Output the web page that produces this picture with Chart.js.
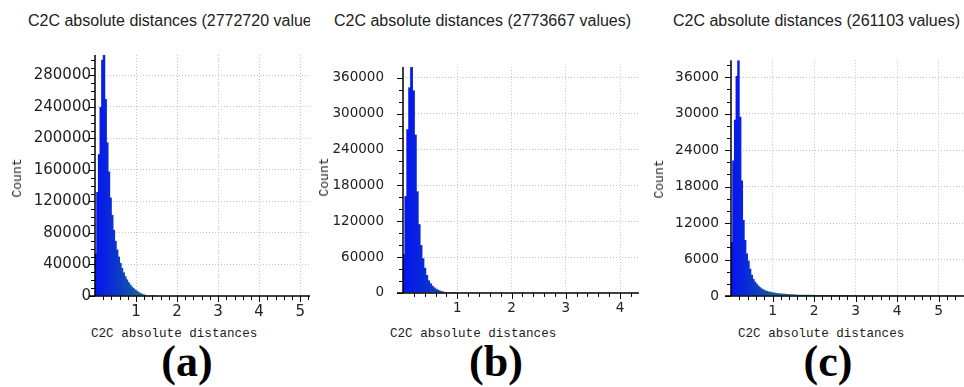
<!DOCTYPE html>
<html>
<head>
<meta charset="utf-8">
<script src="https://cdn.jsdelivr.net/npm/chart.js@4.4.1/dist/chart.umd.min.js"></script>
<style>
  body { margin: 0; width: 964px; height: 387px; overflow: hidden; background: #fff; position: relative; }
  canvas, .txt { position: absolute; }
  .title { font-family: "Liberation Sans", Arial, sans-serif; font-size: 16px; color: #222; white-space: nowrap; overflow: hidden; line-height: 20px; top: 11px; }
  .ylab { font-family: "Liberation Mono", monospace; font-size: 13px; color: #222; line-height: 14px; white-space: nowrap; transform: translate(-50%, -50%) rotate(-90deg); }
  .xlab { font-family: "Liberation Mono", monospace; font-size: 12.6px; color: #222; line-height: 16px; white-space: nowrap; top: 326px; }
  .tag { font-family: "Liberation Serif", serif; font-weight: bold; font-size: 44px; line-height: 44px; color: #000; top: 340px; transform: translateX(-50%); }
</style>
</head>
<body>

<div class="txt title" style="left:28px; width:282px;">C2C absolute distances (2772720 values)</div>
<div class="txt title" style="left:334px;">C2C absolute distances (2773667 values)</div>
<div class="txt title" style="left:673px;">C2C absolute distances (261103 values)</div>

<canvas id="chartA" width="320" height="280" style="left:0; top:40px;"></canvas>
<canvas id="chartB" width="320" height="280" style="left:320px; top:40px;"></canvas>
<canvas id="chartC" width="324" height="280" style="left:640px; top:40px;"></canvas>

<div class="txt ylab" style="left:18px; top:178px;">Count</div>
<div class="txt ylab" style="left:325px; top:177px;">Count</div>
<div class="txt ylab" style="left:660px; top:179px;">Count</div>

<div class="txt xlab" style="left:91px;">C2C absolute distances</div>
<div class="txt xlab" style="left:390px;">C2C absolute distances</div>
<div class="txt xlab" style="left:738px;">C2C absolute distances</div>

<div class="txt tag" style="left:187px;">(a)</div>
<div class="txt tag" style="left:496px;">(b)</div>
<div class="txt tag" style="left:828px;">(c)</div>

<script>
// (a) histogram, bins of 0.04
const binWidthA = 0.04;
const countsA = [54000, 132000, 180000, 240000, 300000, 306000, 250000, 195000, 158000, 125000,
                 103000, 84000, 70000, 59000, 50000, 42000, 35500, 30000, 25000, 21000,
                 17500, 14500, 12000, 10000, 8200, 6700, 5300, 4100, 3000, 2200,
                 1500, 950, 550, 300, 160, 80, 40];
const xTicksA = [1, 2, 3, 4, 5];
const yTicksA = [0, 40000, 80000, 120000, 160000, 200000, 240000, 280000];

// (b) histogram, bins of 0.035
const binWidthB = 0.035;
const countsB = [65000, 162000, 274000, 344000, 378000, 339000, 265000, 170000, 115000, 80000,
                 58000, 42000, 30000, 21000, 16000, 12000, 9000, 6800, 5000, 3700,
                 2700, 1900, 1300, 850, 550, 330, 180, 90];
const xTicksB = [1, 2, 3, 4];
const yTicksB = [0, 60000, 120000, 180000, 240000, 300000, 360000];

// (c) histogram, bins of 0.04 then a long flat tail
const binWidthC = 0.04;
const countsC = [8900, 22300, 29000, 36200, 38800, 29500, 19000, 12500, 9200, 7000,
                 5800, 4500, 3500, 2800, 2350, 2000, 1700, 1450, 1250, 1080,
                 950, 840, 750, 680, 620, 570, 530, 490, 455, 425,
                 400, 375, 350, 330, 310, 290, 275, 260, 250, 240];
const tailEdgesC = [1.6, 2.0, 2.5, 3.0, 4.0, 5.0, 5.61];
const tailCountsC = [230, 200, 170, 150, 140, 130, 130];
const xTicksC = [1, 2, 3, 4, 5];
const yTicksC = [0, 6000, 12000, 18000, 24000, 30000, 36000];

// colour scale along the distance axis
const colorAt = [0, 0.25, 0.6, 1.0, 1.5, 2.2, 3.0, 5.6];
const fillColors = ['#0615f0', '#0822e2', '#0c3cc4', '#1558a6', '#1e7a98', '#38a48c', '#68cc9a', '#a8f2b8'];

function binPoints(binWidth, counts) {
    return counts.map((c, i) => ({ x: (i + 0.5) * binWidth, y: c }));
}

function tailPoints(edges, counts) {
    return edges.map((e, i) => ({ x: e, y: counts[i] }));
}

function hGradient(chart, colors) {
    const { ctx, chartArea, scales } = chart;
    if (!chartArea) return null;
    const last = colorAt[colorAt.length - 1];
    const x0 = scales.x.getPixelForValue(0);
    const x1 = scales.x.getPixelForValue(last);
    const g = ctx.createLinearGradient(x0, 0, x1, 0);
    colorAt.forEach((v, i) => g.addColorStop(v / last, colors[i]));
    return g;
}

// axis lines with major and minor tick marks
const c2cAxes = {
    id: 'c2cAxes',
    afterDraw(chart, args, opts) {
        const { ctx, chartArea: a, scales: { x, y } } = chart;
        ctx.save();
        ctx.strokeStyle = '#000';
        ctx.lineWidth = 1.5;
        ctx.beginPath();
        ctx.moveTo(a.left, a.top);
        ctx.lineTo(a.left, a.bottom);
        ctx.moveTo(a.left - 6, a.bottom);
        ctx.lineTo(a.right, a.bottom);
        ctx.stroke();

        ctx.lineWidth = 1;
        ctx.beginPath();
        for (let i = 1; i * opts.xMinor <= x.max + 1e-9; i++) {
            const v = i * opts.xMinor;
            const px = Math.round(x.getPixelForValue(v)) + 0.5;
            const major = Math.abs(v - Math.round(v)) < 1e-6;
            ctx.moveTo(px, a.bottom);
            ctx.lineTo(px, a.bottom + (major ? 6 : 4));
        }
        for (let i = 0; i * opts.yMinor <= y.max; i++) {
            const v = i * opts.yMinor;
            const py = Math.round(y.getPixelForValue(v)) + 0.5;
            const major = v % opts.yMajor === 0;
            ctx.moveTo(a.left, py);
            ctx.lineTo(a.left - (major ? 6 : 4), py);
        }
        ctx.stroke();
        ctx.restore();
    }
};

function makePanel(id, p) {
    const gridColor = c => (c.tick && c.tick.value === 0) ? 'rgba(0,0,0,0)' : '#c4c4c4';
    const fill = c => hGradient(c.chart, fillColors);
    const datasets = [{
        type: 'bar',
        data: p.bins,
        backgroundColor: fill,
        borderWidth: 0,
        barPercentage: 1.5,
        categoryPercentage: 1
    }];
    if (p.tail) {
        datasets.push({
            type: 'line',
            data: p.tail,
            stepped: 'after',
            fill: 'origin',
            pointRadius: 0,
            borderWidth: 0,
            backgroundColor: fill
        });
    }
    new Chart(document.getElementById(id), {
        type: 'bar',
        data: { datasets },
        options: {
            responsive: false,
            animation: false,
            events: [],
            layout: { padding: { top: 15, right: p.padRight, left: 0, bottom: 0 } },
            plugins: {
                legend: { display: false },
                tooltip: { enabled: false },
                c2cAxes: { xMinor: 0.2, yMinor: p.yMinor, yMajor: p.yTicks[1] }
            },
            scales: {
                x: {
                    type: 'linear',
                    min: 0,
                    max: p.xMax,
                    offset: false,
                    afterBuildTicks: s => { s.ticks = p.xTicks.map(v => ({ value: v })); },
                    afterFit: s => { s.height = 24; },
                    grid: { color: gridColor, lineWidth: 1, drawTicks: false, offset: false },
                    border: { display: false, dash: [1, 2] },
                    ticks: {
                        color: '#222',
                        padding: 7,
                        maxRotation: 0,
                        autoSkip: false,
                        callback: v => String(v),
                        font: { family: 'DejaVu Sans', size: p.tickSize }
                    }
                },
                y: {
                    min: 0,
                    max: p.yMax,
                    afterBuildTicks: s => { s.ticks = p.yTicks.map(v => ({ value: v })); },
                    afterFit: s => { s.width = p.yAxisWidth; },
                    grid: { color: gridColor, lineWidth: 1, drawTicks: false },
                    border: { display: false, dash: [1, 2] },
                    ticks: {
                        color: '#222',
                        padding: p.yPad,
                        autoSkip: false,
                        callback: v => String(v),
                        font: { family: 'DejaVu Sans', size: p.tickSize }
                    }
                }
            }
        },
        plugins: [c2cAxes]
    });
}

makePanel('chartA', {
    bins: binPoints(binWidthA, countsA),
    xTicks: xTicksA, yTicks: yTicksA, xMax: 5.24, yMax: 306000, yMinor: 10000,
    yAxisWidth: 95, padRight: 10, yPad: 4, tickSize: 15
});
makePanel('chartB', {
    bins: binPoints(binWidthB, countsB),
    xTicks: xTicksB, yTicks: yTicksB, xMax: 4.35, yMax: 378000, yMinor: 20000,
    yAxisWidth: 83, padRight: 1, yPad: 19, tickSize: 13.5
});
makePanel('chartC', {
    bins: binPoints(binWidthC, countsC),
    tail: tailPoints(tailEdgesC, tailCountsC),
    xTicks: xTicksC, yTicks: yTicksC, xMax: 5.61, yMax: 38800, yMinor: 2000,
    yAxisWidth: 91, padRight: 0, yPad: 12, tickSize: 13.8
});
</script>
</body>
</html>
